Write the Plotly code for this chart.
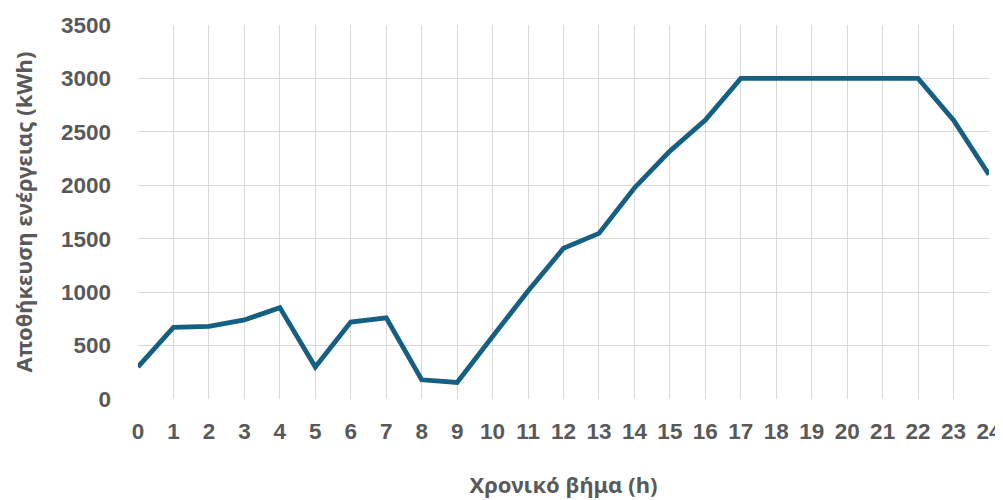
import plotly.graph_objects as go

hours = list(range(0, 25))
storage_kwh = [300, 670, 680, 740, 855, 300, 720, 760, 180, 155,
               585, 1010, 1410, 1550, 1975, 2320, 2610, 3000, 3000, 3000,
               3000, 3000, 3000, 2610, 2100]
x_title = "Χρονικό βήμα (h)"
y_title = "Αποθήκευση ενέργειας (kWh)"

LINE_COLOR = "#156082"
TEXT_COLOR = "#595959"
GRID_COLOR = "#D9D9D9"

fig = go.Figure()
fig.add_trace(go.Scatter(
    x=hours, y=storage_kwh, mode="lines",
    line=dict(color=LINE_COLOR, width=4.8),
    cliponaxis=False, showlegend=False,
))

tick_font = dict(family="Liberation Sans", size=22.5, color=TEXT_COLOR, weight="bold")
title_font = dict(family="Noto Sans", size=22, color=TEXT_COLOR, weight="bold")

fig.update_layout(
    width=995, height=492,
    margin=dict(l=130, r=14, t=17, b=101),
    paper_bgcolor="white", plot_bgcolor="white",
    xaxis=dict(
        range=[0, 24], tick0=0, dtick=1,
        showgrid=True, gridcolor=GRID_COLOR, gridwidth=1.4,
        zeroline=False, showline=False,
        tickfont=tick_font, ticks="", ticklabelstandoff=16,
        title=dict(text=x_title, font=title_font, standoff=35),
        automargin=False,
    ),
    yaxis=dict(
        range=[0, 3500], tick0=0, dtick=500,
        showgrid=True, gridcolor=GRID_COLOR, gridwidth=1.4,
        zeroline=False, showline=False,
        tickfont=tick_font, ticks="", ticklabelstandoff=26,
        title=dict(text=y_title, font=title_font, standoff=26),
        automargin=False,
    ),
)
fig.write_html("out.html")
